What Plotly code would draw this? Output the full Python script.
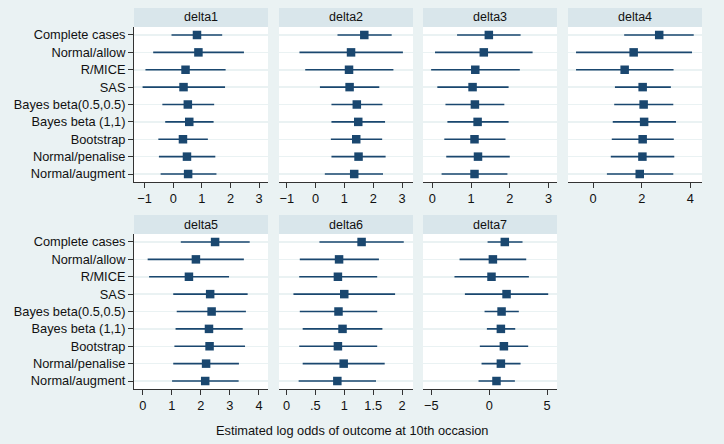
import plotly.graph_objects as go

methods = ["Complete cases", "Normal/allow", "R/MICE", "SAS", "Bayes beta(0.5,0.5)",
           "Bayes beta (1,1)", "Bootstrap", "Normal/penalise", "Normal/augment"]
panel_titles = ["delta1", "delta2", "delta3", "delta4", "delta5", "delta6", "delta7"]

d1_est = [0.83, 0.88, 0.43, 0.36, 0.51, 0.56, 0.34, 0.48, 0.52]
d1_lo = [-0.06, -0.70, -0.97, -1.07, -0.38, -0.28, -0.52, -0.50, -0.44]
d1_hi = [1.71, 2.47, 1.83, 1.81, 1.43, 1.41, 1.21, 1.47, 1.51]

d2_est = [1.69, 1.23, 1.16, 1.18, 1.43, 1.48, 1.41, 1.49, 1.34]
d2_lo = [0.76, -0.56, -0.36, 0.15, 0.55, 0.55, 0.53, 0.55, 0.32]
d2_hi = [2.64, 3.03, 2.70, 2.21, 2.32, 2.41, 2.31, 2.43, 2.34]

d3_est = [1.46, 1.33, 1.11, 1.04, 1.10, 1.17, 1.09, 1.18, 1.09]
d3_lo = [0.64, 0.07, -0.03, 0.13, 0.34, 0.39, 0.31, 0.36, 0.24]
d3_hi = [2.28, 2.59, 2.26, 1.97, 1.86, 1.97, 1.89, 2.00, 1.94]

d4_est = [2.72, 1.67, 1.30, 2.04, 2.08, 2.10, 2.04, 2.03, 1.92]
d4_lo = [1.28, -0.70, -0.70, 0.90, 0.87, 0.81, 0.77, 0.73, 0.57]
d4_hi = [4.14, 4.07, 3.31, 3.20, 3.30, 3.41, 3.32, 3.34, 3.30]

d5_est = [2.49, 1.83, 1.59, 2.32, 2.37, 2.28, 2.30, 2.18, 2.15]
d5_lo = [1.31, 0.17, 0.22, 1.05, 1.17, 1.13, 1.09, 1.05, 1.01]
d5_hi = [3.68, 3.48, 2.97, 3.61, 3.55, 3.44, 3.52, 3.31, 3.30]

d6_est = [1.30, 0.91, 0.89, 1.00, 0.90, 0.97, 0.89, 0.99, 0.88]
d6_lo = [0.57, 0.23, 0.22, 0.12, 0.23, 0.28, 0.22, 0.28, 0.21]
d6_hi = [2.03, 1.60, 1.57, 1.88, 1.57, 1.66, 1.57, 1.70, 1.55]

d7_est = [1.35, 0.32, 0.20, 1.50, 1.07, 1.01, 1.27, 1.01, 0.63]
d7_lo = [-0.14, -2.56, -3.00, -2.10, -0.40, -0.20, -0.81, -0.66, -0.92]
d7_hi = [2.88, 3.20, 3.43, 5.10, 2.56, 2.25, 3.37, 2.71, 2.22]

x_tickvals = [[-1, 0, 1, 2, 3], [-1, 0, 1, 2, 3], [0, 1, 2, 3], [0, 2, 4],
              [0, 1, 2, 3, 4], [0, 0.5, 1, 1.5, 2], [-5, 0, 5]]
x_ticktext = [["\u22121", "0", "1", "2", "3"], ["\u22121", "0", "1", "2", "3"],
              ["0", "1", "2", "3"], ["0", "2", "4"], ["0", "1", "2", "3", "4"],
              ["0", ".5", "1", "1.5", "2"], ["\u22125", "0", "5"]]
x_title = "Estimated log odds of outcome at 10th occasion"

ests = [d1_est, d2_est, d3_est, d4_est, d5_est, d6_est, d7_est]
los = [d1_lo, d2_lo, d3_lo, d4_lo, d5_lo, d6_lo, d7_lo]
his = [d1_hi, d2_hi, d3_hi, d4_hi, d5_hi, d6_hi, d7_hi]

# layout (pixels)
W, H = 724, 444
cols = [(134, 268), (279, 413), (423, 557), (568, 702)]
rows = [(27, 182), (234, 389)]
strip_h = 19
x_ranges = [(-1.37, 3.31), (-1.27, 3.38), (-0.24, 3.22), (-1.03, 4.48),
            (-0.30, 4.31), (-0.13, 2.19), (-5.72, 5.86)]

NAVY = "#1a476f"
BG = "#eaf2f3"
STRIP = "#d9e6eb"
AXC = "#333333"
FONT = "Liberation Sans, Arial, sans-serif"
FS = 12.8

n = len(methods)
ypos = list(range(n, 0, -1))

fig = go.Figure()
shapes = []
annotations = []
layout_axes = {}

for k in range(7):
    r, c = divmod(k, 4)
    x0, x1 = cols[c]
    yt, yb = rows[r]
    suffix = "" if k == 0 else str(k + 1)
    xa = "x" + suffix
    ya = "y" + suffix
    est, lo, hi = ests[k], los[k], his[k]
    fig.add_trace(go.Scatter(
        x=est, y=ypos, xaxis=xa, yaxis=ya, mode="markers",
        marker=dict(symbol="square", size=8.5, color=NAVY, line=dict(width=0)),
        error_x=dict(type="data", symmetric=False,
                     array=[h - e for h, e in zip(hi, est)],
                     arrayminus=[e - l for e, l in zip(est, lo)],
                     width=0, thickness=1.7, color=NAVY),
        showlegend=False, hoverinfo="skip"))
    first_col = (c == 0)
    layout_axes["xaxis" + suffix] = dict(
        domain=[x0 / W, x1 / W], anchor=ya, range=list(x_ranges[k]),
        tickmode="array", tickvals=x_tickvals[k], ticktext=x_ticktext[k],
        ticks="outside", ticklen=5, tickwidth=1, tickcolor=AXC,
        showline=True, linecolor=AXC, linewidth=1, showgrid=False, zeroline=False,
        tickfont=dict(family=FONT, size=FS, color="#111111"), fixedrange=True)
    layout_axes["yaxis" + suffix] = dict(
        domain=[(H - yb) / H, (H - yt) / H], anchor=xa, range=[0.54, n + 0.46],
        tickmode="array", tickvals=ypos, ticktext=methods if first_col else [""] * n,
        showticklabels=first_col, ticks="outside" if first_col else "",
        ticklen=5, tickwidth=1, tickcolor=AXC,
        showline=first_col, linecolor=AXC, linewidth=1,
        showgrid=True, gridcolor=BG, gridwidth=1.5, zeroline=False,
        tickfont=dict(family=FONT, size=FS, color="#111111"), fixedrange=True)
    # strip header
    shapes.append(dict(type="rect", xref="paper", yref="paper",
                       x0=x0 / W, x1=x1 / W, y0=(H - yt) / H, y1=(H - yt + strip_h) / H,
                       fillcolor=STRIP, line=dict(width=0), layer="below"))
    annotations.append(dict(text=panel_titles[k], xref="paper", yref="paper",
                            x=(x0 + x1) / 2 / W, y=(H - yt + strip_h / 2) / H,
                            xanchor="center", yanchor="middle", showarrow=False,
                            font=dict(family=FONT, size=12.5, color="#111111")))

annotations.append(dict(text=x_title, xref="paper", yref="paper",
                        x=351.5 / W, y=(H - 430) / H, xanchor="center", yanchor="middle",
                        showarrow=False, font=dict(family=FONT, size=FS, color="#111111")))

fig.update_layout(width=W, height=H, autosize=False,
                  margin=dict(l=0, r=0, t=0, b=0),
                  paper_bgcolor=BG, plot_bgcolor="white", hovermode=False,
                  shapes=shapes, annotations=annotations, **layout_axes)

fig.write_html("out.html",
               config={"displayModeBar": False, "staticPlot": True},
               post_script="document.body.style.margin='0';"
                           "document.body.style.background='%s';"
                           "document.body.style.overflow='hidden';" % BG)
